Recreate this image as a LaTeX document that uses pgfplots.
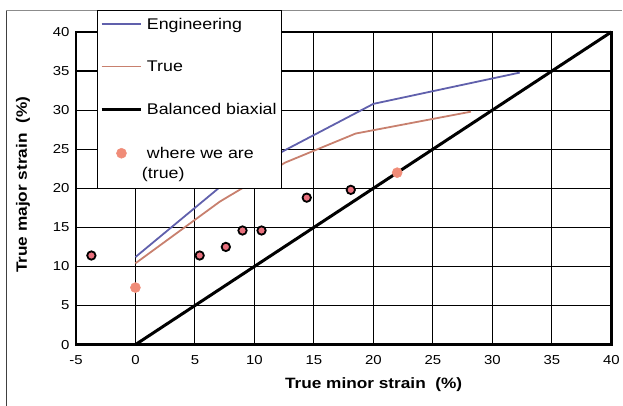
\documentclass[border=0pt]{standalone}
\usepackage{fontspec}
\setmainfont{Liberation Sans}[FakeStretch=1.15]
\usepackage{pgfplots}
\pgfplotsset{compat=1.18}
\definecolor{engblue}{RGB}{96,96,172}
\definecolor{truered}{RGB}{200,128,110}
\definecolor{dotpink}{RGB}{232,112,125}
\definecolor{dotsalmon}{RGB}{240,140,120}

\begin{document}
\begin{tikzpicture}
\begin{axis}[
  scale only axis,
  width=536pt, height=313pt,
  xmin=-5, xmax=40, ymin=0, ymax=40,
  xtick={-5,0,...,40},
  xticklabels={-5,0,5,10,15,20,25,30,35,40},
  ytick={0,5,...,40},
  grid=major,
  major grid style={black, line width=1.1pt},
  major tick length=0pt,
  axis line style={black, line width=2.4pt},
  tick label style={font=\fontsize{13}{15}\selectfont},
  /pgf/number format/assume math mode=true,
  yticklabel style={xshift=-3pt},
  xticklabel style={yshift=-7pt},
  xlabel={\textbf{True minor strain\ \ (\%)}},
  ylabel={\textbf{True major strain\ \ (\%)}},
  label style={font=\fontsize{15}{18}\selectfont},
  xlabel style={at={(axis description cs:0.556,-0.128)}, anchor=center},
  ylabel style={at={(axis description cs:-0.099,0.511)}, anchor=center},
  clip=false,
  legend style={at={(axis description cs:0.039,1.0703)}, anchor=north west,
    draw=black, fill=white,
    font=\fontsize{15.5}{18}\selectfont,
    cells={anchor=base west, inner xsep=5pt}, row sep=26pt, column sep=2pt,
    inner xsep=3pt, inner ysep=6pt},
  legend image code/.code={\draw[mark repeat=2, mark phase=2, yshift=5pt, #1]
    plot coordinates {(0pt,0pt) (20pt,0pt) (40pt,0pt)};},
]
% Engineering
\addplot[engblue, line width=1.8pt] coordinates {
  (0,11.2) (7.3,20.4) (12.6,24.9) (20,30.8) (32.3,34.8)};
\addlegendentry{Engineering}
% True
\addplot[truered, line width=1.8pt] coordinates {
  (0,10.4) (7.1,18.3) (12.6,23.3) (18.5,27.0) (28.2,29.8)};
\addlegendentry{True}
% Balanced biaxial
\addplot[black, line width=3pt] coordinates {(0,0) (40,40)};
\addlegendentry{Balanced biaxial}
% where we are (true)
\addlegendimage{only marks, mark=*, mark size=5pt,
  mark options={fill=dotsalmon, draw=dotsalmon, line width=0.5pt}, yshift=20pt}
\addlegendentry{\begin{tabular}[b]{@{}l@{}}where we are\\[2pt]\hspace*{-5pt}(true)\end{tabular}}
\addplot[only marks, mark=*, mark size=5pt, forget plot,
  mark options={fill=dotsalmon, draw=dotsalmon, line width=0.5pt}] coordinates {
  (0,7.3) (22,22)};
\addplot[only marks, mark=*, mark size=4.2pt, forget plot,
  mark options={fill=dotpink, draw=black, line width=1.8pt}] coordinates {
  (-3.7,11.4) (5.4,11.4) (7.6,12.5) (9.0,14.6) (10.6,14.6) (14.4,18.8) (18.1,19.8)};
% chart frame and page extent
\draw[black!75, line width=0.8pt] (rel axis cs:-0.1306,-0.1949) -- (rel axis cs:-0.1306,1.0703);
\draw[black!45, line width=0.8pt] (rel axis cs:-0.1306,1.0703) -- (rel axis cs:1.0205,1.0703);
\path (rel axis cs:-0.1418,-0.1949) rectangle (rel axis cs:1.0205,1.1022);
\end{axis}
\end{tikzpicture}
\end{document}
